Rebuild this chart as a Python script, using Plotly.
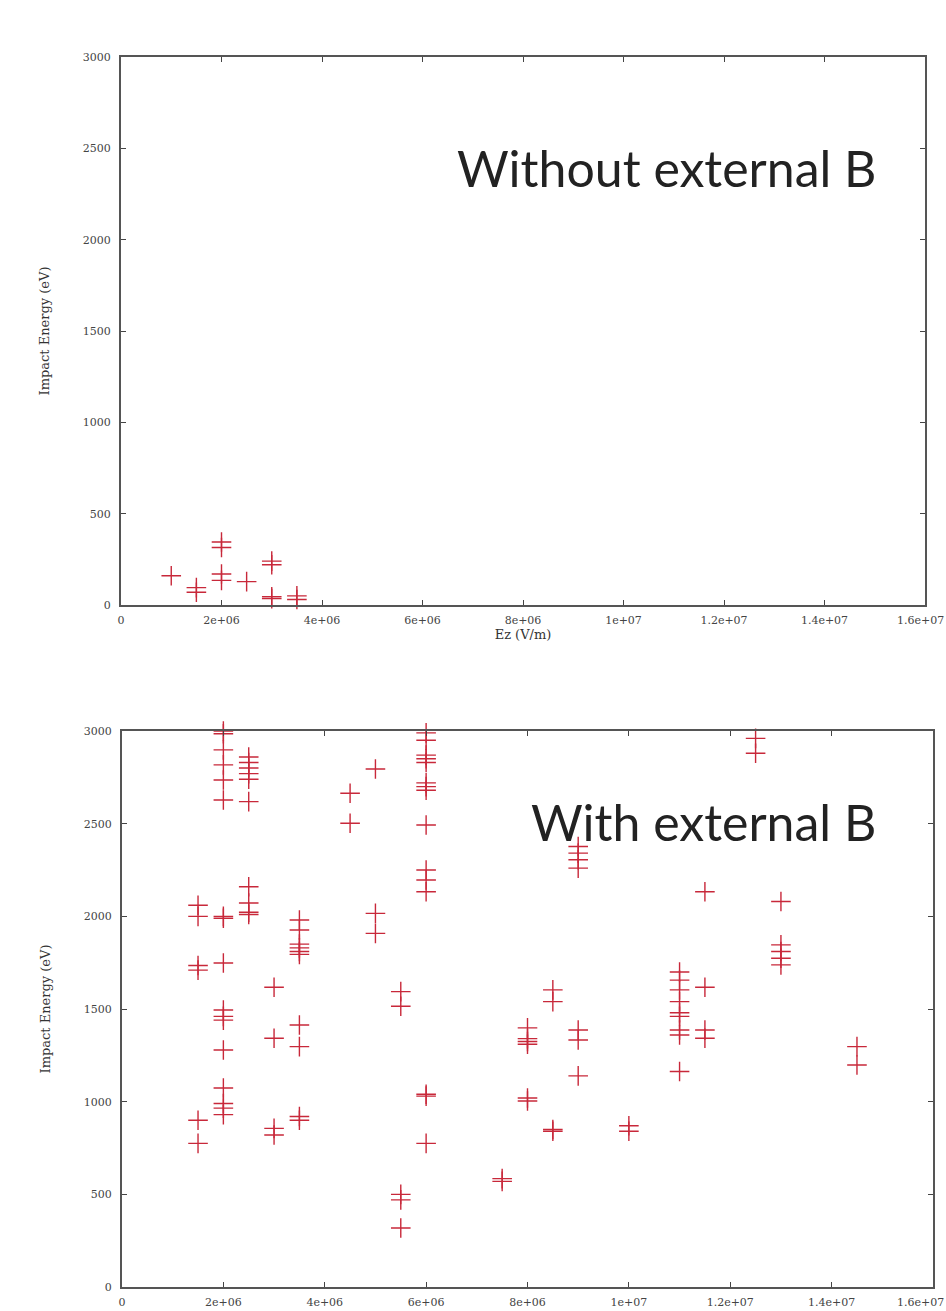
import plotly.graph_objects as go

# Impact energy vs. field strength Ez, two cases
ez_ticks = [0, 2e6, 4e6, 6e6, 8e6, 1e7, 1.2e7, 1.4e7, 1.6e7]
ez_ticktext = ["0", "2e+06", "4e+06", "6e+06", "8e+06", "1e+07", "1.2e+07", "1.4e+07", "1.6e+07"]
energy_ticks = [0, 500, 1000, 1500, 2000, 2500, 3000]
energy_ticktext = ["0", "500", "1000", "1500", "2000", "2500", "3000"]

# Without external B
ez_no_b = [1.0e6, 1.5e6, 1.5e6, 2e6, 2e6, 2e6, 2e6, 2.5e6,
           3e6, 3e6, 3e6, 3e6, 3.5e6, 3.5e6]
energy_no_b = [160, 95, 70, 345, 315, 170, 135, 128,
               240, 220, 45, 35, 50, 30]

# With external B
ez_b = [
    1.5e6, 1.5e6, 1.5e6, 1.5e6, 1.5e6, 1.5e6,
    2e6, 2e6, 2e6, 2e6, 2e6, 2e6, 2e6, 2e6, 2e6, 2e6, 2e6, 2e6, 2e6, 2e6, 2e6, 2e6, 2e6,
    2.5e6, 2.5e6, 2.5e6, 2.5e6, 2.5e6, 2.5e6, 2.5e6, 2.5e6, 2.5e6, 2.5e6,
    3e6, 3e6, 3e6, 3e6,
    3.5e6, 3.5e6, 3.5e6, 3.5e6, 3.5e6, 3.5e6, 3.5e6, 3.5e6, 3.5e6, 3.5e6,
    4.5e6, 4.5e6,
    5e6, 5e6, 5e6,
    5.5e6, 5.5e6, 5.5e6, 5.5e6, 5.5e6,
    6e6, 6e6, 6e6, 6e6, 6e6, 6e6, 6e6, 6e6, 6e6, 6e6, 6e6, 6e6, 6e6, 6e6, 6e6,
    7.5e6, 7.5e6,
    8e6, 8e6, 8e6, 8e6, 8e6, 8e6,
    8.5e6, 8.5e6, 8.5e6, 8.5e6,
    9e6, 9e6, 9e6, 9e6, 9e6, 9e6, 9e6,
    1e7, 1e7,
    1.1e7, 1.1e7, 1.1e7, 1.1e7, 1.1e7, 1.1e7, 1.1e7, 1.1e7, 1.1e7,
    1.15e7, 1.15e7, 1.15e7, 1.15e7,
    1.25e7, 1.25e7,
    1.3e7, 1.3e7, 1.3e7, 1.3e7, 1.3e7,
    1.45e7, 1.45e7,
]
energy_b = [
    2060, 2000, 1735, 1710, 900, 775,
    3000, 2985, 2898, 2817, 2736, 2628, 2000, 1748, 1495, 1460, 1440, 1279, 1074, 990, 965, 930, 1990,
    2860, 2830, 2800, 2770, 2740, 2619, 2160, 2072, 2022, 2010,
    1617, 1342, 856, 820,
    1980, 1926, 1850, 1830, 1810, 1795, 1414, 1297, 920, 900,
    2664, 2502,
    2795, 2016, 1908,
    1594, 1515, 500, 470, 318,
    2990, 2950, 2870, 2850, 2830, 2720, 2700, 2680, 2493, 2250, 2196, 2133, 1040, 1030, 775,
    585, 570,
    1398, 1340, 1325, 1310, 1020, 1004,
    1603, 1540, 850, 840,
    2377, 2341, 2305, 2260, 1387, 1333, 1139,
    870, 840,
    1700, 1656, 1603, 1540, 1480, 1460, 1387, 1360, 1163,
    2133, 1617, 1387, 1342,
    2960, 2880,
    2080, 1846, 1810, 1774, 1738,
    1297, 1198,
]

W, H = 946, 1311
cross_color = "rgb(200,40,58)"
marker = dict(symbol="cross-thin", size=14, line=dict(color=cross_color, width=1.4))

fig = go.Figure()
fig.add_trace(go.Scatter(x=ez_no_b, y=energy_no_b, mode="markers", marker=marker,
                         xaxis="x", yaxis="y", cliponaxis=False, showlegend=False))
fig.add_trace(go.Scatter(x=ez_b, y=energy_b, mode="markers", marker=marker,
                         xaxis="x2", yaxis="y2", cliponaxis=False, showlegend=False))

tick_font = dict(family="DejaVu Serif", size=11, color="#444")
title_font = dict(family="DejaVu Serif", size=13, color="#333")

# the last x label sits at the page edge, so it is drawn as a right-anchored note
x_axis_text = ez_ticktext[:-1] + [""]

def xaxis(domain, anchor, title=None):
    return dict(domain=domain, anchor=anchor, range=[0, 1.6e7], tickvals=ez_ticks,
                ticktext=x_axis_text, ticks="inside", ticklen=5, tickcolor="#444",
                mirror="ticks", showline=True, linecolor="#555", linewidth=2,
                showgrid=False, zeroline=False, tickfont=tick_font, ticklabelstandoff=4,
                ticklabeloverflow="allow",
                title=dict(text=title, font=title_font, standoff=4) if title else None,
                automargin=False)

def yaxis(domain, anchor):
    return dict(domain=domain, anchor=anchor, range=[0, 3000], tickvals=energy_ticks,
                ticktext=energy_ticktext, ticks="inside", ticklen=5, tickcolor="#444",
                mirror="ticks", showline=True, linecolor="#555", linewidth=2,
                showgrid=False, zeroline=False, tickfont=tick_font, ticklabelstandoff=6,
                ticklabeloverflow="allow",
                title=dict(text="Impact Energy (eV)", font=title_font, standoff=30),
                automargin=False)

edge_labels = [
    dict(text=ez_ticktext[-1], x=1, y=(H - 620) / H, xref="paper", yref="paper",
         xanchor="right", yanchor="middle", showarrow=False, font=tick_font),
    dict(text=ez_ticktext[-1], x=1, y=(H - 1302) / H, xref="paper", yref="paper",
         xanchor="right", yanchor="middle", showarrow=False, font=tick_font),
]

fig.update_layout(
    width=W, height=H,
    margin=dict(l=0, r=0, t=0, b=0),
    paper_bgcolor="white", plot_bgcolor="white",
    xaxis=xaxis([121 / W, 925 / W], "y", "Ez (V/m)"),
    yaxis=yaxis([(H - 605) / H, (H - 57) / H], "x"),
    xaxis2=xaxis([122 / W, 933 / W], "y2"),
    yaxis2=yaxis([(H - 1287) / H, (H - 731) / H], "x2"),
    annotations=[
        dict(text="Without external B", x=878 / W, y=(H - 168) / H, xref="paper", yref="paper",
             xanchor="right", yanchor="middle", showarrow=False,
             font=dict(family="Lato", size=50, color="#222")),
        dict(text="With external B", x=878 / W, y=(H - 822) / H, xref="paper", yref="paper",
             xanchor="right", yanchor="middle", showarrow=False,
             font=dict(family="Lato", size=50, color="#222")),
    ] + edge_labels,
)

fig.write_html("out.html")
